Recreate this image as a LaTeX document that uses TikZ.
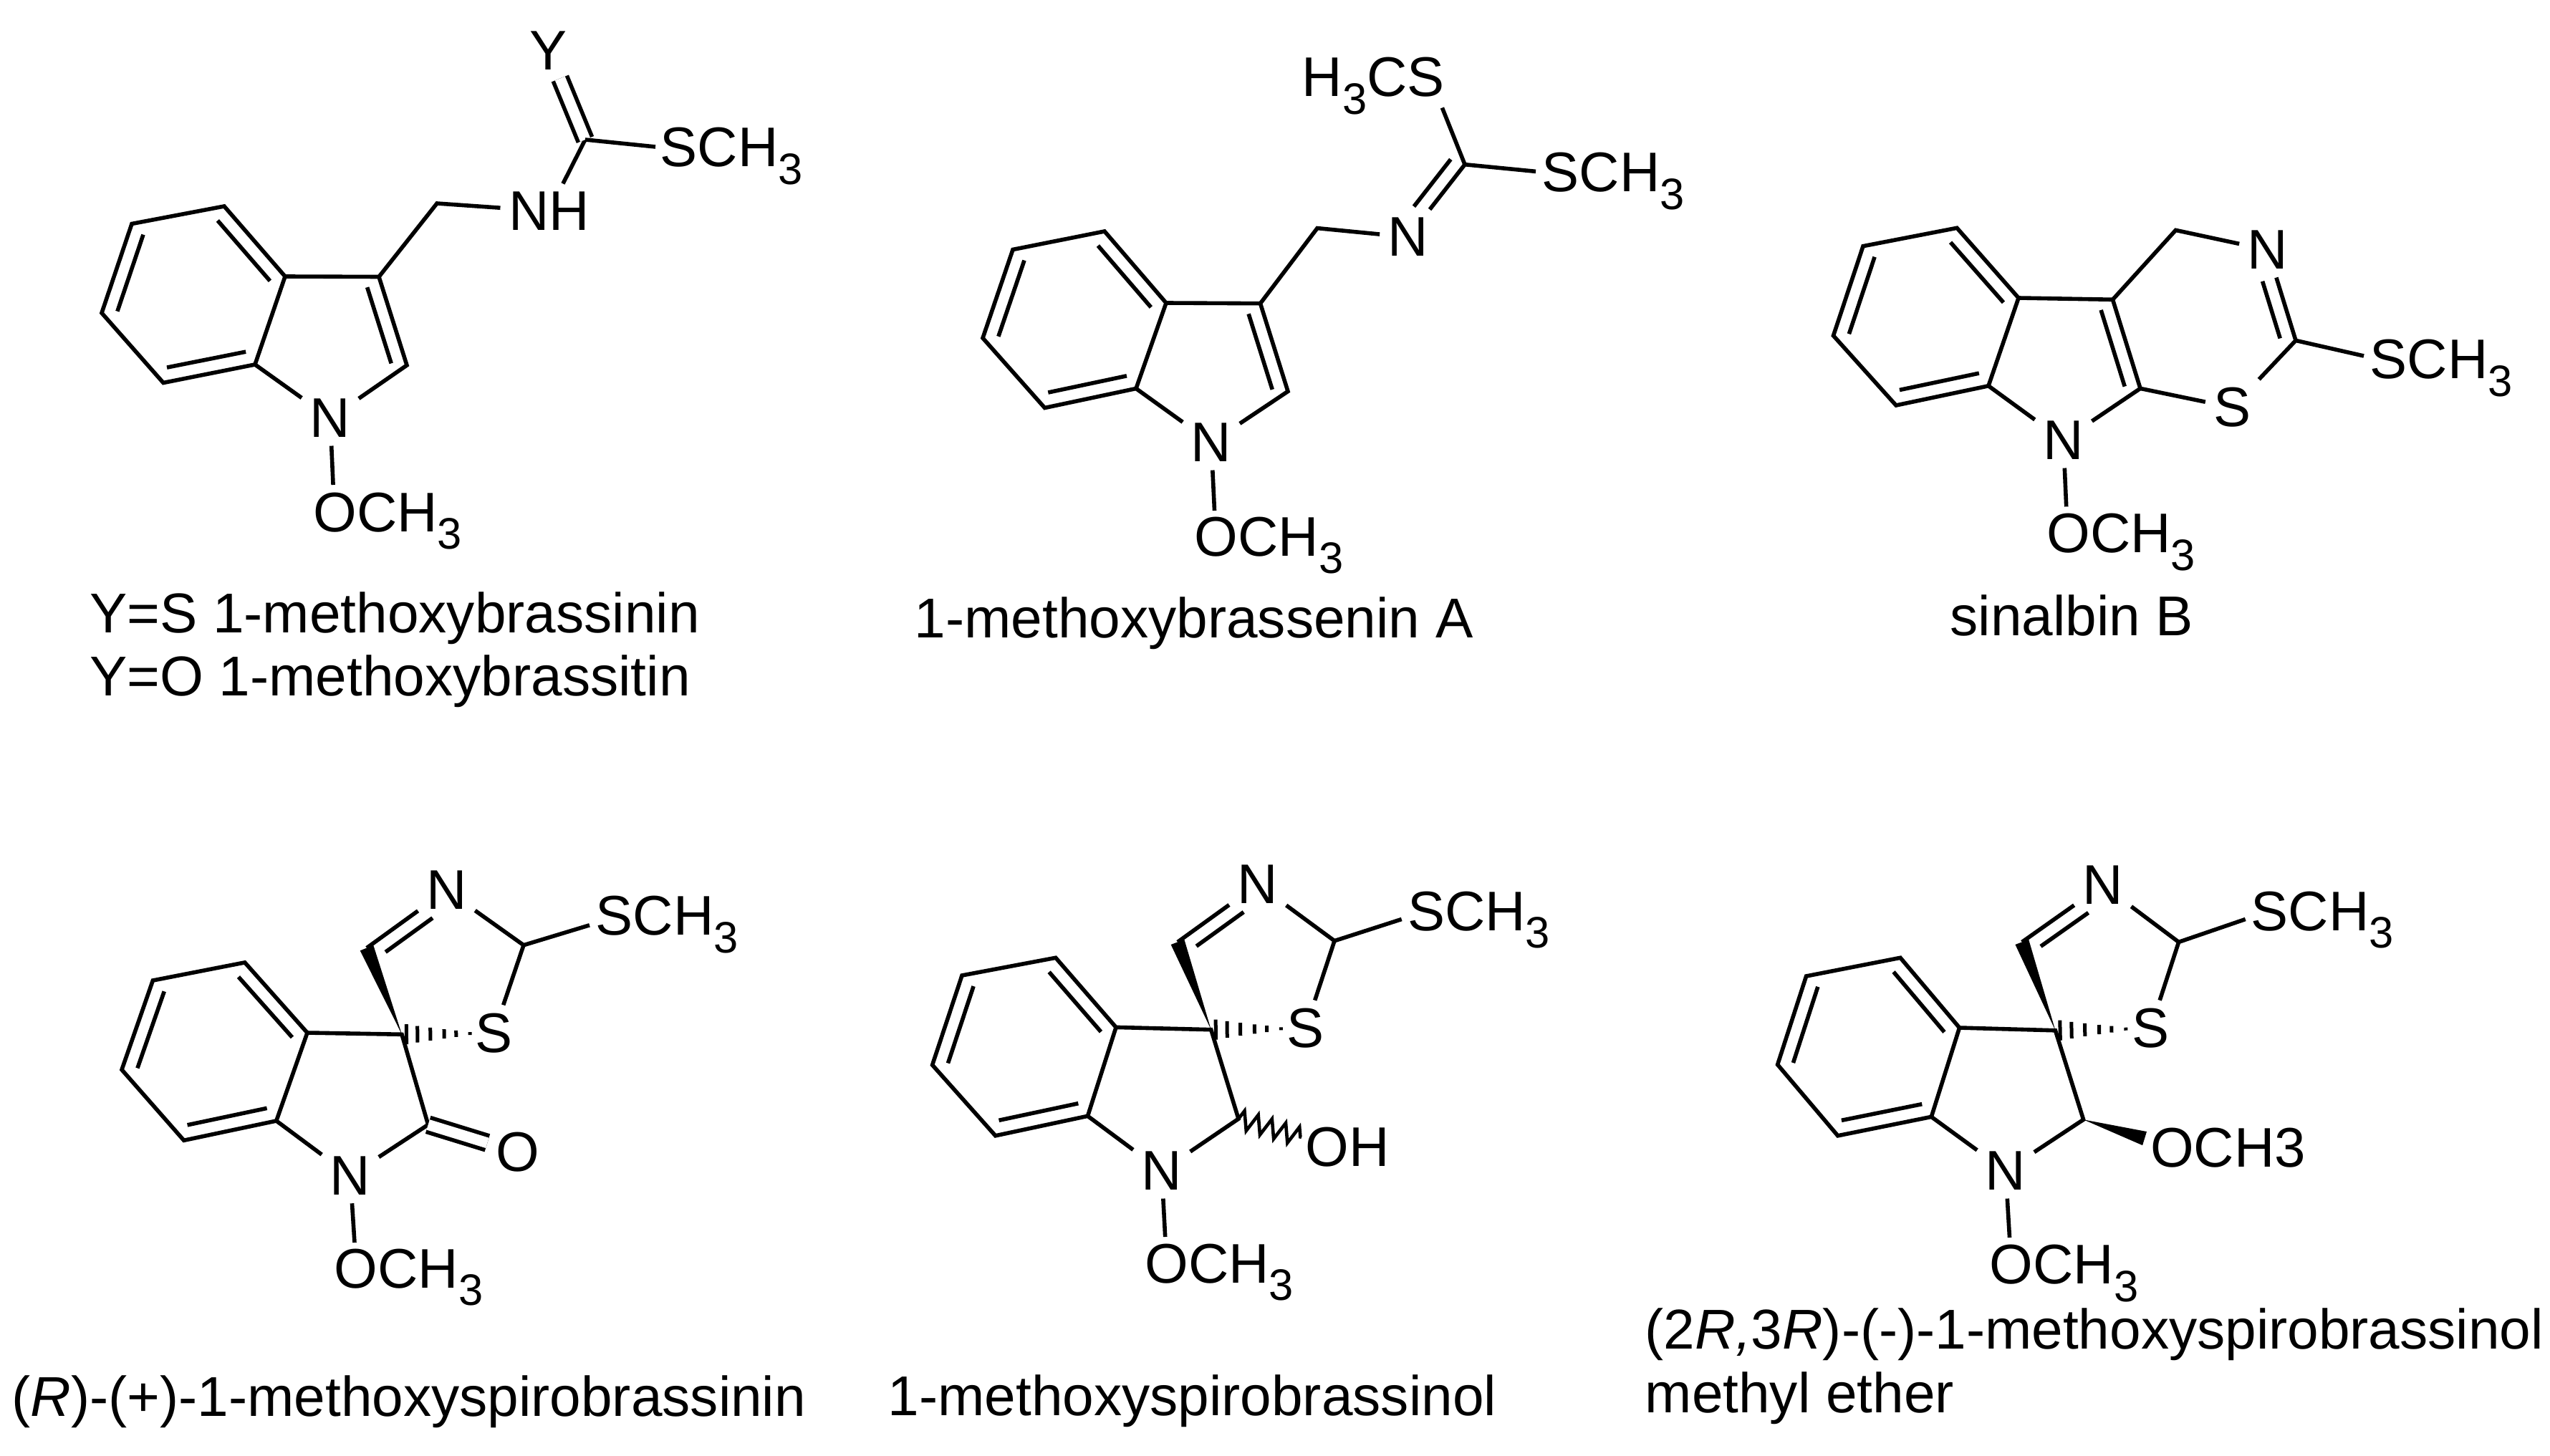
\documentclass[tikz,border=0pt]{standalone}
\usepackage{fontspec}
\setmainfont{Liberation Sans}
\usetikzlibrary{calc,decorations.pathmorphing}
\tikzset{
  bond/.style={black,line width=.056cm},
  twin/.style={bond,double,double distance=.15cm},
  atom/.style={inner sep=.11cm,font=\fontsize{22.2}{26}\selectfont},
  txt/.style={inner sep=0,anchor=base west,xshift=-.05cm,font=\fontsize{22.2}{26}\selectfont},
  lab/.style={inner sep=0,anchor=base west,font=\fontsize{22.3}{26}\selectfont},
  wavy/.style={bond,line width=.046cm,decorate,decoration={zigzag,amplitude=.13cm,segment length=.2cm}}
}
\newcommand{\three}{\raisebox{-7pt}[0pt][0pt]{\fontsize{17.5}{17.5}\selectfont 3}}
\newcommand{\dblfr}[4]{\draw[bond] ($(#1)!#3!(#2)!.2cm!90:(#2)$) -- ($(#2)!#4!(#1)!.2cm!-90:(#1)$);}
\newcommand{\dbl}[2]{\dblfr{#1}{#2}{.07}{.07}}
\newcommand{\wedgeb}[2]{\fill ($(#2)!.1cm!90:(#1)$) -- (#1) -- ($(#2)!.1cm!-90:(#1)$) -- cycle;}
\newcommand{\hashb}[2]{\foreach \f/\w in {.05/.14,.17/.115,.31/.09,.46/.065,.59/.045,.74/.02}
  {\draw[black,line width=.05cm] ($(#1)!\f!(#2)!\w cm!90:(#2)$) -- ($(#1)!\f!(#2)!\w cm!-90:(#2)$);}}
\begin{document}
\begin{tikzpicture}
  \useasboundingbox (0,0) rectangle (35.6,-20.33);

  % 1-methoxybrassinin
  \coordinate (a1) at (1.84,-3.125);
  \coordinate (b1) at (3.13,-2.88);
  \coordinate (c1) at (3.98,-3.86);
  \coordinate (d1) at (3.56,-5.09);
  \coordinate (e1) at (2.28,-5.345);
  \coordinate (f1) at (1.42,-4.37);
  \coordinate (g1) at (5.29,-3.865);
  \coordinate (h1) at (5.68,-5.10);
  \coordinate (k1) at (6.10,-2.84);
  \coordinate (m1) at (8.17,-1.95);
  \node[atom] (n1) at (4.61,-5.84) {N};
  \node[atom] (nh1) at (7.665,-2.95) {NH};
  \node[atom] (y1) at (7.66,-.71) {Y};
  \node[txt] (sch1) at (9.26,-2.33) {SCH\three};
  \node[txt] (och1) at (4.416,-7.42) {OCH\three};
  \draw[bond] (a1) -- (b1) -- (c1) -- (d1) -- (e1) -- (f1) -- cycle;
  \draw[bond] (c1) -- (g1) -- (h1) -- (n1) -- (d1);
  \dbl{c1}{b1} \dbl{a1}{f1} \dbl{e1}{d1} \dbl{h1}{g1}
  \draw[bond] (g1) -- (k1) -- (nh1) -- (m1);
  \draw[twin] (y1) -- (m1);
  \draw[bond] (m1) -- ([shift={(-.06,.28)}]sch1.base west);
  \draw[bond] (n1) -- ([shift={(.285,.65)}]och1.base west);
  \node[lab] (lab1a) at (1.245,-8.83) {Y=S 1-methoxybrassinin};
  \node[lab] (lab1b) at (1.245,-9.71) {Y=O 1-methoxybrassitin};

  % 1-methoxybrassenin A
  \coordinate (a2) at (14.14,-3.485);
  \coordinate (b2) at (15.42,-3.23);
  \coordinate (c2) at (16.28,-4.23);
  \coordinate (d2) at (15.86,-5.425);
  \coordinate (e2) at (14.585,-5.695);
  \coordinate (f2) at (13.72,-4.72);
  \coordinate (g2) at (17.595,-4.237);
  \coordinate (h2) at (17.98,-5.465);
  \coordinate (k2) at (18.39,-3.186);
  \coordinate (m2) at (20.45,-2.297);
  \node[atom] (n2) at (16.91,-6.18) {N};
  \node[atom] (nb2) at (19.66,-3.31) {N};
  \node[txt] (hcs2) at (18.22,-1.35) {H\three CS};
  \node[txt] (sch2) at (21.57,-2.68) {SCH\three};
  \node[txt] (och2) at (16.72,-7.76) {OCH\three};
  \draw[bond] (a2) -- (b2) -- (c2) -- (d2) -- (e2) -- (f2) -- cycle;
  \draw[bond] (c2) -- (g2) -- (h2) -- (n2) -- (d2);
  \dbl{c2}{b2} \dbl{a2}{f2} \dbl{e2}{d2} \dbl{h2}{g2}
  \draw[bond] (g2) -- (k2) -- (nb2) -- (m2);
  \dblfr{nb2}{m2}{.3}{.05}
  \draw[bond] (m2) -- ([shift={(-.08,.286)}]sch2.base west);
  \draw[bond] (m2) -- ([shift={(1.964,-.155)}]hcs2.base west);
  \draw[bond] (n2) -- ([shift={(.285,.63)}]och2.base west);
  \node[lab] (lab2) at (12.76,-8.90) {1-methoxybrassenin A};

  % sinalbin B
  \coordinate (a3) at (26.01,-3.437);
  \coordinate (b3) at (27.32,-3.183);
  \coordinate (c3) at (28.18,-4.16);
  \coordinate (d3) at (27.76,-5.388);
  \coordinate (e3) at (26.47,-5.66);
  \coordinate (f3) at (25.595,-4.687);
  \coordinate (g3) at (29.495,-4.183);
  \coordinate (h3) at (29.88,-5.424);
  \coordinate (k3) at (30.374,-3.214);
  \coordinate (m3) at (32.05,-4.754);
  \node[atom] (n3) at (28.806,-6.15) {N};
  \node[atom] (nb3) at (31.66,-3.49) {N};
  \node[atom] (s3) at (31.165,-5.69) {S};
  \node[txt] (sch3) at (33.13,-5.29) {SCH\three};
  \node[txt] (och3) at (28.617,-7.714) {OCH\three};
  \draw[bond] (a3) -- (b3) -- (c3) -- (d3) -- (e3) -- (f3) -- cycle;
  \draw[bond] (c3) -- (g3) -- (h3) -- (n3) -- (d3);
  \dbl{c3}{b3} \dbl{a3}{f3} \dbl{e3}{d3} \dbl{h3}{g3}
  \draw[bond] (g3) -- (k3) -- (nb3) -- (m3) -- (s3) -- (h3);
  \dblfr{m3}{nb3}{.07}{.3}
  \draw[bond] (m3) -- ([shift={(-.08,.32)}]sch3.base west);
  \draw[bond] (n3) -- ([shift={(.28,.64)}]och3.base west);
  \node[lab] (lab3) at (27.217,-8.875) {sinalbin B};

  % (R)-(+)-1-methoxyspirobrassinin
  \coordinate (a4) at (2.134,-13.69);
  \coordinate (b4) at (3.418,-13.439);
  \coordinate (c4) at (4.29,-14.42);
  \coordinate (d4) at (3.858,-15.65);
  \coordinate (e4) at (2.567,-15.923);
  \coordinate (f4) at (1.70,-14.936);
  \coordinate (g4) at (5.61,-14.443);
  \coordinate (h4) at (5.977,-15.704);
  \coordinate (k4) at (5.12,-13.236);
  \coordinate (m4) at (7.31,-13.197);
  \node[atom] (n4) at (4.89,-16.417) {N};
  \node[atom] (nb4) at (6.234,-12.43) {N};
  \node[atom] (s4) at (6.894,-14.426) {S};
  \node[atom] (o4) at (7.224,-16.088) {O};
  \node[txt] (sch4) at (8.36,-13.055) {SCH\three};
  \node[txt] (och4) at (4.71,-17.98) {OCH\three};
  \draw[bond] (a4) -- (b4) -- (c4) -- (d4) -- (e4) -- (f4) -- cycle;
  \draw[bond] (c4) -- (g4) -- (h4) -- (n4) -- (d4);
  \dbl{c4}{b4} \dbl{a4}{f4} \dbl{e4}{d4}
  \wedgeb{g4}{k4}
  \hashb{g4}{s4.center}
  \draw[bond] (k4) -- (nb4) -- (m4) -- (s4);
  \dblfr{nb4}{k4}{.28}{.13}
  \draw[twin] (h4) -- (o4);
  \draw[bond] (m4) -- ([shift={(-.08,.137)}]sch4.base west);
  \draw[bond] (n4) -- ([shift={(.29,.63)}]och4.base west);
  \node[lab] (lab4) at (.16,-19.774) {(\textit{R})-(+)-1-methoxyspirobrassinin};

  % 1-methoxyspirobrassinol
  \coordinate (a5) at (13.43,-13.62);
  \coordinate (b5) at (14.738,-13.373);
  \coordinate (c5) at (15.58,-14.344);
  \coordinate (d5) at (15.185,-15.583);
  \coordinate (e5) at (13.897,-15.858);
  \coordinate (f5) at (13.016,-14.87);
  \coordinate (g5) at (16.907,-14.377);
  \coordinate (h5) at (17.29,-15.622);
  \coordinate (k5) at (16.44,-13.154);
  \coordinate (m5) at (18.63,-13.137);
  \coordinate (z5) at (18.17,-15.88);
  \node[atom] (n5) at (16.218,-16.35) {N};
  \node[atom] (nb5) at (17.558,-12.347) {N};
  \node[atom] (s5) at (18.227,-14.36) {S};
  \node[txt] (oh5) at (18.27,-16.28) {OH};
  \node[txt] (sch5) at (19.694,-12.99) {SCH\three};
  \node[txt] (och5) at (16.027,-17.91) {OCH\three};
  \draw[bond] (a5) -- (b5) -- (c5) -- (d5) -- (e5) -- (f5) -- cycle;
  \draw[bond] (c5) -- (g5) -- (h5) -- (n5) -- (d5);
  \dbl{c5}{b5} \dbl{a5}{f5} \dbl{e5}{d5}
  \wedgeb{g5}{k5}
  \hashb{g5}{s5.center}
  \draw[bond] (k5) -- (nb5) -- (m5) -- (s5);
  \dblfr{nb5}{k5}{.28}{.13}
  \draw[wavy] (h5) -- (z5);
  \draw[bond] (m5) -- ([shift={(-.077,.155)}]sch5.base west);
  \draw[bond] (n5) -- ([shift={(.29,.64)}]och5.base west);
  \node[lab] (lab5) at (12.39,-19.763) {1-methoxyspirobrassinol};

  % (2R,3R)-(-)-1-methoxyspirobrassinol methyl ether
  \coordinate (a6) at (25.216,-13.63);
  \coordinate (b6) at (26.53,-13.373);
  \coordinate (c6) at (27.355,-14.35);
  \coordinate (d6) at (26.963,-15.594);
  \coordinate (e6) at (25.657,-15.858);
  \coordinate (f6) at (24.816,-14.865);
  \coordinate (g6) at (28.694,-14.388);
  \coordinate (h6) at (29.086,-15.633);
  \coordinate (k6) at (28.228,-13.154);
  \coordinate (m6) at (30.416,-13.154);
  \coordinate (w6) at (29.94,-15.896);
  \node[atom] (n6) at (28.0,-16.35) {N};
  \node[atom] (nb6) at (29.355,-12.358) {N};
  \node[atom] (s6) at (30.024,-14.36) {S};
  \node[txt] (ome6) at (30.065,-16.296) {OCH3};
  \node[txt] (sch6) at (31.47,-12.99) {SCH\three};
  \node[txt] (och6) at (27.82,-17.925) {OCH\three};
  \draw[bond] (a6) -- (b6) -- (c6) -- (d6) -- (e6) -- (f6) -- cycle;
  \draw[bond] (c6) -- (g6) -- (h6) -- (n6) -- (d6);
  \dbl{c6}{b6} \dbl{a6}{f6} \dbl{e6}{d6}
  \wedgeb{g6}{k6}
  \hashb{g6}{s6.center}
  \draw[bond] (k6) -- (nb6) -- (m6) -- (s6);
  \dblfr{nb6}{k6}{.28}{.13}
  \wedgeb{h6}{w6}
  \draw[bond] (m6) -- ([shift={(-.073,.155)}]sch6.base west);
  \draw[bond] (n6) -- ([shift={(.285,.645)}]och6.base west);
  \node[lab] (lab6a) at (22.96,-18.83) {(2\textit{R,}3\textit{R})-(-)-1-methoxyspirobrassinol};
  \node[lab] (lab6b) at (22.96,-19.72) {methyl ether};
\end{tikzpicture}
\end{document}
